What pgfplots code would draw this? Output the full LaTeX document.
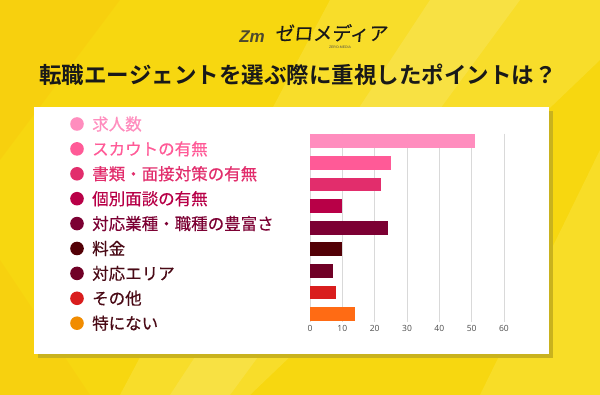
\documentclass[border=0pt]{standalone}
\usepackage{pgfplots}
\pgfplotsset{compat=1.18}
\usepackage{fontspec}
\setmainfont{Noto Sans CJK JP}[BoldFont={Noto Sans CJK JP Bold}]
\newfontfamily\medfont{Noto Sans CJK JP}[FakeBold=0.35]
\newfontfamily\tickfont{Open Sans}
\newfontfamily\latinfont{Liberation Sans}
\definecolor{bgY}{HTML}{F7D710}
\definecolor{bgL}{HTML}{FBE64A}
\definecolor{shadowY}{HTML}{C9B21E}
\definecolor{cA}{HTML}{FF8DBE}
\definecolor{cB}{HTML}{FF5A97}
\definecolor{cC}{HTML}{E22D6C}
\definecolor{cD}{HTML}{B80047}
\definecolor{cE}{HTML}{7C0033}
\definecolor{cF}{HTML}{530006}
\definecolor{cG}{HTML}{700026}
\definecolor{cH}{HTML}{D91D1D}
\definecolor{cI}{HTML}{F18C00}
\definecolor{cIbar}{HTML}{FF6B14}
\definecolor{txtdark}{HTML}{4A0A16}
\begin{document}
\begin{tikzpicture}[x=1pt,y=-1pt]
% background
\fill[bgY] (0,0) rectangle (600,395);
\clip (0,0) rectangle (600,395);
\fill[bgL,opacity=0.45] (330,0) -- (600,0) -- (600,60) -- (250,395) -- (120,395) -- cycle;
\fill[white,opacity=0.12] (430,0) -- (520,0) -- (230,395) -- (170,395) -- cycle;
\fill[bgL,opacity=0.4] (600,150) -- (600,395) -- (480,395) -- cycle;
\fill[orange!50!bgY,opacity=0.15] (0,0) -- (120,0) -- (0,160) -- cycle;
\fill[orange!50!bgY,opacity=0.12] (0,395) -- (0,260) -- (90,395) -- cycle;
% logo
\node[text=black!60!olive, font=\latinfont\itshape\bfseries\fontsize{17}{17}\selectfont] at (252,37) {Zm};
\node[text=black!90, font=\medfont\fontsize{19}{19}\selectfont, anchor=west, xslant=0.1] at (272,33) {ゼロメディア};
\node[text=black!70, font=\latinfont\fontsize{3.5}{4}\selectfont] at (340,47) {ZERO-MEDIA};
% title
\node[text=black!90, font=\bfseries\fontsize{22.5}{23}\selectfont] at (298,75) {転職エージェントを選ぶ際に重視したポイントは？};
% panel
\fill[shadowY] (38,111) rectangle (553,358);
\fill[white] (34,107) rectangle (549,354);
% legend
\foreach \c/\t/\tc [count=\i from 0] in {cA/求人数/cA, cB/スカウトの有無/cB, cC/書類・面接対策の有無/cC, cD/個別面談の有無/cD, cE/対応業種・職種の豊富さ/cE, cF/料金/txtdark, cG/対応エリア/txtdark, cH/その他/txtdark, cI/特にない/txtdark}{
  \fill[\c] (77,{124+24.9*\i}) circle (6.8);
  \node[anchor=west, inner sep=0pt, text=\tc, font=\medfont\fontsize{16.5}{17}\selectfont] at (92,{124+24.9*\i}) {\t};
}
\begin{axis}[
  at={(310pt,-133.7pt)}, anchor=north west,
  scale only axis, width=194pt, height=187.9pt,
  xmin=0, xmax=60, ymin=-0.35, ymax=8.35, y dir=reverse,
  xbar, bar width=13.8pt, bar shift=0pt,
  axis line style={draw=none},
  xmajorgrids, major grid style={draw=black!15, line width=0.7pt},
  xtick={0,10,...,60}, ytick=\empty,
  major tick length=0pt,
  xticklabel style={font=\tickfont\fontsize{8.5}{8.5}\selectfont, text=black!70},
  /pgf/number format/assume math mode=true,
  clip=false,
]
\addplot[fill=cA, draw=none] coordinates {(51,0)};
\addplot[fill=cB, draw=none] coordinates {(25,1)};
\addplot[fill=cC, draw=none] coordinates {(22,2)};
\addplot[fill=cD, draw=none] coordinates {(10,3)};
\addplot[fill=cE, draw=none] coordinates {(24,4)};
\addplot[fill=cF, draw=none] coordinates {(10,5)};
\addplot[fill=cG, draw=none] coordinates {(7,6)};
\addplot[fill=cH, draw=none] coordinates {(8,7)};
\addplot[fill=cIbar, draw=none] coordinates {(14,8)};
\end{axis}
\end{tikzpicture}
\end{document}
